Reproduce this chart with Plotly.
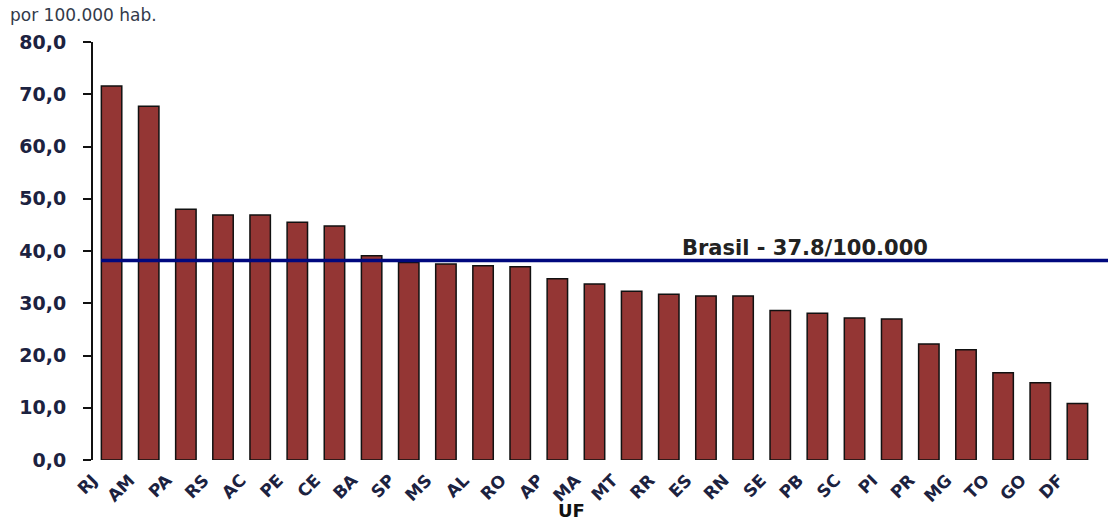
import plotly.graph_objects as go

# Data
states = ["RJ", "AM", "PA", "RS", "AC", "PE", "CE", "BA", "SP", "MS", "AL", "RO", "AP",
          "MA", "MT", "RR", "ES", "RN", "SE", "PB", "SC", "PI", "PR", "MG", "TO", "GO", "DF"]
rates = [71.6, 67.7, 48.0, 46.9, 46.9, 45.5, 44.8, 39.1, 37.8, 37.5, 37.2, 37.0, 34.7,
         33.7, 32.3, 31.7, 31.4, 31.4, 28.6, 28.1, 27.2, 27.0, 22.2, 21.1, 16.7, 14.8, 10.8]
brasil_line = 38.2
brasil_label = "Brasil - 37.8/100.000"
y_ticks = [0, 10, 20, 30, 40, 50, 60, 70, 80]
y_unit = "por 100.000 hab."
x_title = "UF"

FONT = "DejaVu Sans"
TXT = "#1c2240"

fig = go.Figure()
fig.add_trace(go.Bar(
    x=states, y=rates,
    marker=dict(color="#943634", line=dict(color="#111111", width=1.5)),
    hoverinfo="x+y",
))

fig.add_shape(type="line", xref="paper", yref="y",
              x0=0.008, x1=1.02, y0=brasil_line, y1=brasil_line,
              line=dict(color="#00087e", width=3.5), layer="above")

fig.add_annotation(text="<b>" + brasil_label + "</b>", xref="paper", yref="y",
                   x=0.71, y=brasil_line, xanchor="center", yanchor="bottom",
                   yshift=-2, showarrow=False,
                   font=dict(family=FONT, size=21, color="#222222"))

fig.add_annotation(text=y_unit, xref="paper", yref="paper",
                   x=-0.085, y=1.0, xanchor="left", yanchor="bottom", yshift=15,
                   showarrow=False, font=dict(family=FONT, size=17, color="#333a4a"))

fig.add_annotation(text="<b>" + x_title + "</b>", xref="paper", yref="paper",
                   x=0.4766, y=-0.121, xanchor="center", yanchor="middle",
                   borderpad=0, showarrow=False,
                   font=dict(family=FONT, size=18, color="#111111"))

fig.update_layout(
    width=1108, height=524,
    margin=dict(l=93, r=12, t=42, b=64),
    paper_bgcolor="white", plot_bgcolor="white",
    bargap=0.45,
    showlegend=False,
    separators=",.",
    font=dict(family=FONT, color=TXT),
)
fig.update_yaxes(
    range=[0, 80], tickvals=y_ticks, tickformat=".1f",
    showgrid=False, zeroline=False,
    showline=True, linecolor="#111111", linewidth=2,
    ticks="outside", ticklen=8, tickwidth=1.5, tickcolor="#111111",
    ticklabelstandoff=13,
    tickfont=dict(family=FONT, size=19, color=TXT, weight="bold"),
)
fig.update_xaxes(
    showgrid=False, zeroline=False, showline=False, ticks="",
    tickangle=-45, ticklabelshift=-19, ticklabelstandoff=6,
    tickfont=dict(family=FONT, size=17, color=TXT, weight="bold"),
)

fig.write_html("out.html")
